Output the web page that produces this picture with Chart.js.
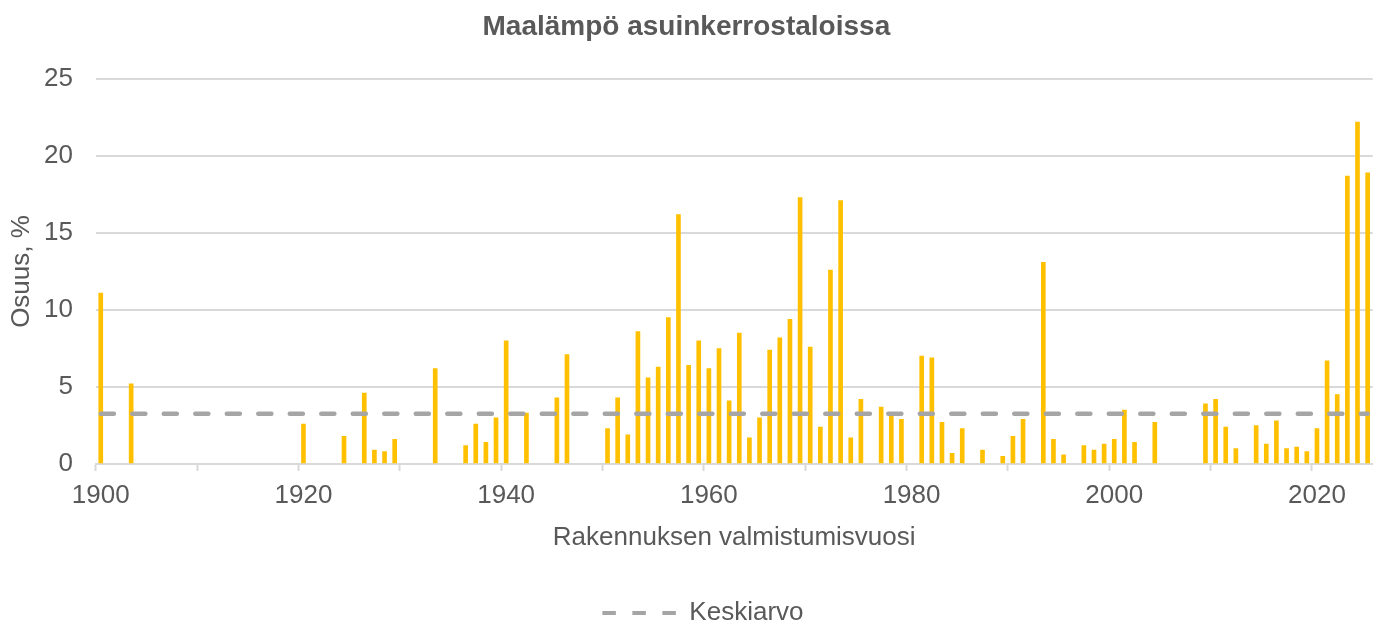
<!DOCTYPE html>
<html>
<head>
<meta charset="utf-8">
<script src="https://cdn.jsdelivr.net/npm/chart.js@4/dist/chart.umd.min.js"></script>
<style>
  html, body { margin: 0; padding: 0; background: #fff; }
  #wrap { width: 1384px; height: 626px; position: relative; }
</style>
</head>
<body>
<div id="wrap"><canvas id="chart"></canvas></div>
<script>
// Kaikki vuodet x-akselilla (kategoriat)
const years = [
  1900, 1901, 1902, 1903, 1904, 1905, 1906, 1907, 1908, 1909,
  1910, 1911, 1912, 1913, 1914, 1915, 1916, 1917, 1918, 1919,
  1920, 1921, 1922, 1923, 1924, 1925, 1926, 1927, 1928, 1929,
  1930, 1931, 1932, 1933, 1934, 1935, 1936, 1937, 1938, 1939,
  1940, 1941, 1942, 1943, 1944, 1945, 1946, 1947, 1948, 1949,
  1950, 1951, 1952, 1953, 1954, 1955, 1956, 1957, 1958, 1959,
  1960, 1961, 1962, 1963, 1964, 1965, 1966, 1967, 1968, 1969,
  1970, 1971, 1972, 1973, 1974, 1975, 1976, 1977, 1978, 1979,
  1980, 1981, 1982, 1983, 1984, 1985, 1986, 1987, 1988, 1989,
  1990, 1991, 1992, 1993, 1994, 1995, 1996, 1997, 1998, 1999,
  2000, 2001, 2002, 2003, 2004, 2005, 2006, 2007, 2008, 2009,
  2010, 2011, 2012, 2013, 2014, 2015, 2016, 2017, 2018, 2019,
  2020, 2021, 2022, 2023, 2024, 2025
];

// Vuodet joilta on arvo ja maalämmön osuus (%)
const barYears = [
  1900, 1903, 1920, 1924, 1926, 1927, 1928, 1929, 1933, 1936,
  1937, 1938, 1939, 1940, 1942, 1945, 1946, 1950, 1951, 1952,
  1953, 1954, 1955, 1956, 1957, 1958, 1959, 1960, 1961, 1962,
  1963, 1964, 1965, 1966, 1967, 1968, 1969, 1970, 1971, 1972,
  1973, 1974, 1975, 1977, 1978, 1979, 1981, 1982, 1983, 1984,
  1985, 1987, 1989, 1990, 1991, 1993, 1994, 1995, 1997, 1998,
  1999, 2000, 2001, 2002, 2004, 2009, 2010, 2011, 2012, 2014,
  2015, 2016, 2017, 2018, 2019, 2020, 2021, 2022, 2023, 2024,
  2025
];
const osuus = [
  11.1, 5.2, 2.6, 1.8, 4.6, 0.9, 0.8, 1.6, 6.2, 1.2,
  2.6, 1.4, 3.0, 8.0, 3.3, 4.3, 7.1, 2.3, 4.3, 1.9,
  8.6, 5.6, 6.3, 9.5, 16.2, 6.4, 8.0, 6.2, 7.5, 4.1,
  8.5, 1.7, 3.0, 7.4, 8.2, 9.4, 17.3, 7.6, 2.4, 12.6,
  17.1, 1.7, 4.2, 3.7, 3.1, 2.9, 7.0, 6.9, 2.7, 0.7,
  2.3, 0.9, 0.5, 1.8, 2.9, 13.1, 1.6, 0.6, 1.2, 0.9,
  1.3, 1.6, 3.5, 1.4, 2.7, 3.9, 4.2, 2.4, 1.0, 2.5,
  1.3, 2.8, 1.0, 1.1, 0.8, 2.3, 6.7, 4.5, 18.7, 22.2,
  18.9
];

const keskiarvo = 3.26;

const yTicks = [0, 5, 10, 15, 20, 25];

const textColor = '#595959';
const gridColor = '#D9D9D9';
const avgColor = '#A5A5A5';
const fontFamily = '"Liberation Sans", Arial, sans-serif';

const labels = years.map(String);
const barData = barYears.map((y, i) => ({ x: String(y), y: osuus[i] }));
const avgData = years.map(() => keskiarvo);

// selite hieman oikealle kuten alkuperäisessä
const legendShift = {
  id: 'legendShift',
  afterLayout(chart) {
    if (chart.legend) {
      chart.legend.left += 16.6;
      chart.legend.right += 16.6;
    }
  }
};

new Chart(document.getElementById('chart'), {
  type: 'bar',
  data: {
    labels: labels,
    datasets: [
      {
        type: 'line',
        label: 'Keskiarvo',
        data: avgData,
        borderColor: avgColor,
        backgroundColor: avgColor,
        borderWidth: 4.5,
        borderDash: [13.1, 18.4],
        borderCapStyle: 'round',
        pointRadius: 0,
        pointStyle: 'line',
        fill: false,
        order: 0
      },
      {
        label: 'Osuus',
        data: barData,
        backgroundColor: '#FFC000',
        barThickness: 4,
        order: 1
      }
    ]
  },
  plugins: [legendShift],
  options: {
    responsive: true,
    maintainAspectRatio: false,
    animation: false,
    layout: { padding: { left: 0, right: 11.3, top: 0, bottom: -10 } },
    plugins: {
      title: {
        display: true,
        text: 'Maalämpö asuinkerrostaloissa',
        color: textColor,
        font: { family: fontFamily, size: 28, weight: 'bold' },
        padding: { top: 10.2, bottom: 35.2 }
      },
      legend: {
        position: 'bottom',
        labels: {
          usePointStyle: true,
          pointStyleWidth: 74,
          color: textColor,
          font: { family: fontFamily, size: 26 },
          padding: 10,
          generateLabels: chart => {
            const items = Chart.defaults.plugins.legend.labels.generateLabels(chart);
            return items
              .filter(item => item.text === 'Keskiarvo')
              .map(item => Object.assign(item, {
                pointStyle: 'line',
                strokeStyle: avgColor,
                lineWidth: 4,
                lineDash: [13.5, 16.5],
                lineCap: 'butt'
              }));
          }
        }
      },
      tooltip: { enabled: false }
    },
    scales: {
      x: {
        type: 'category',
        offset: true,
        grid: {
          offset: true,
          drawOnChartArea: false,
          drawTicks: true,
          tickLength: 7,
          tickWidth: 2,
          tickColor: ctx => (ctx.index % 10 === 0 && ctx.index < years.length) ? gridColor : 'rgba(0,0,0,0)'
        },
        border: { display: true, color: gridColor, width: 2 },
        ticks: {
          autoSkip: false,
          maxRotation: 0,
          minRotation: 0,
          padding: 9.4,
          color: textColor,
          font: { family: fontFamily, size: 26 },
          callback: function (value, index) {
            return years[index] % 20 === 0 ? String(years[index]) : '';
          }
        },
        title: {
          display: true,
          text: 'Rakennuksen valmistumisvuosi',
          color: textColor,
          font: { family: fontFamily, size: 26 },
          padding: { top: 1.4, bottom: 36.4 }
        }
      },
      y: {
        min: 0,
        max: 25,
        afterBuildTicks: axis => { axis.ticks = yTicks.map(v => ({ value: v })); },
        afterFit: axis => { axis.width = 95.7; },
        grid: { color: gridColor, lineWidth: 2, drawTicks: false },
        border: { display: false },
        ticks: {
          padding: 22.7,
          color: textColor,
          font: { family: fontFamily, size: 26 }
        },
        title: {
          display: true,
          text: 'Osuus, %',
          color: textColor,
          font: { family: fontFamily, size: 26 },
          padding: { top: 6.4, bottom: 0 }
        }
      }
    }
  }
});
</script>
</body>
</html>
